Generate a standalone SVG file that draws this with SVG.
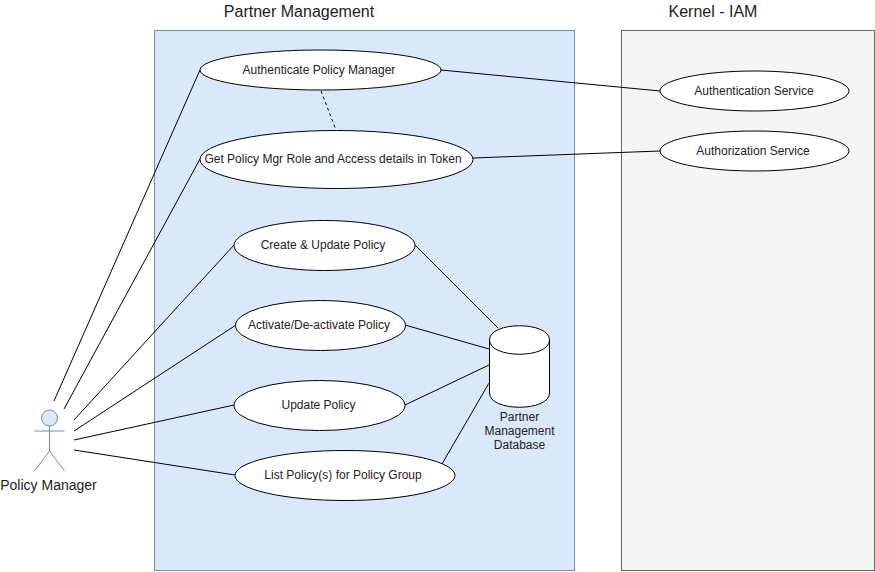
<svg xmlns="http://www.w3.org/2000/svg" width="875" height="572" viewBox="0 0 875 572">
<style>
text{font-family:"Liberation Sans",Arial,sans-serif;font-size:12px;fill:#222;text-anchor:middle}
.t{font-size:16px}
.a{font-size:14px}
.e{fill:#fff;stroke:#000;stroke-width:1}
.c{fill:none;stroke:#000;stroke-width:1}
.s{fill:#dae8fc;stroke:#6c8ebf;stroke-width:1}
</style>
<rect width="875" height="572" fill="#fff"/>
<g id="partner-management"><rect class="s" x="154.500" y="30.500" width="420" height="540"/><text class="t" x="299" y="17">Partner Management</text></g>
<g id="kernel-iam"><rect x="621.500" y="30.500" width="253" height="540" fill="#f5f5f5" stroke="#666"/><text class="t" x="713" y="17">Kernel - IAM</text></g>
<g id="connectors">
<path class="c" d="M54 401L200 70M64 409L200 159M74 420L234 245M74 431L236 325M74 440L234 405M74 450L235 475"/>
<path class="c" d="M441 70L660 91M473 158L660 151M415 245L498 328M405 325L489 349M405 405L489 365M442 464L489 383"/>
<path class="c" stroke-dasharray="3 3" d="M321 91L336 130"/>
</g>
<g id="policy-manager"><circle cx="49.500" cy="418" r="8" class="s"/><path d="M49.500 426V451M34.500 431H64.500M49.500 451L34.500 471M49.500 451L64.500 471" fill="none" stroke="#6c8ebf"/><text class="a" x="48.500" y="490">Policy Manager</text></g>
<g id="authenticate"><ellipse class="e" cx="320.500" cy="70" rx="120.500" ry="20"/><text x="319" y="74">Authenticate Policy Manager</text></g>
<g id="get-role"><ellipse class="e" cx="336.500" cy="159.500" rx="136.500" ry="29"/><text x="333" y="163">Get Policy Mgr Role and Access details in Token</text></g>
<g id="create"><ellipse class="e" cx="324.500" cy="245.500" rx="90.500" ry="25"/><text x="323" y="249">Create &amp; Update Policy</text></g>
<g id="activate"><ellipse class="e" cx="320.500" cy="325.500" rx="85" ry="25"/><text x="319" y="329">Activate/De-activate Policy</text></g>
<g id="update"><ellipse class="e" cx="319.500" cy="405.500" rx="85.500" ry="25"/><text x="318.500" y="409">Update Policy</text></g>
<g id="list"><ellipse class="e" cx="345" cy="475.500" rx="110" ry="25"/><text x="343" y="479">List Policy(s) for Policy Group</text></g>
<g id="database"><path class="e" d="M489.500 340C489.500 321 549.500 321 549.500 340V393C549.500 412 489.500 412 489.500 393Z"/><path class="c" d="M489.500 340C489.500 359 549.500 359 549.500 340"/><text x="519.500" y="421">Partner</text><text x="519.500" y="435">Management</text><text x="519.500" y="449">Database</text></g>
<g id="authentication"><ellipse class="e" cx="754.500" cy="91" rx="94.500" ry="20"/><text x="754" y="95">Authentication Service</text></g>
<g id="authorization"><ellipse class="e" cx="754.500" cy="151" rx="94.500" ry="20"/><text x="753" y="155">Authorization Service</text></g>
</svg>
